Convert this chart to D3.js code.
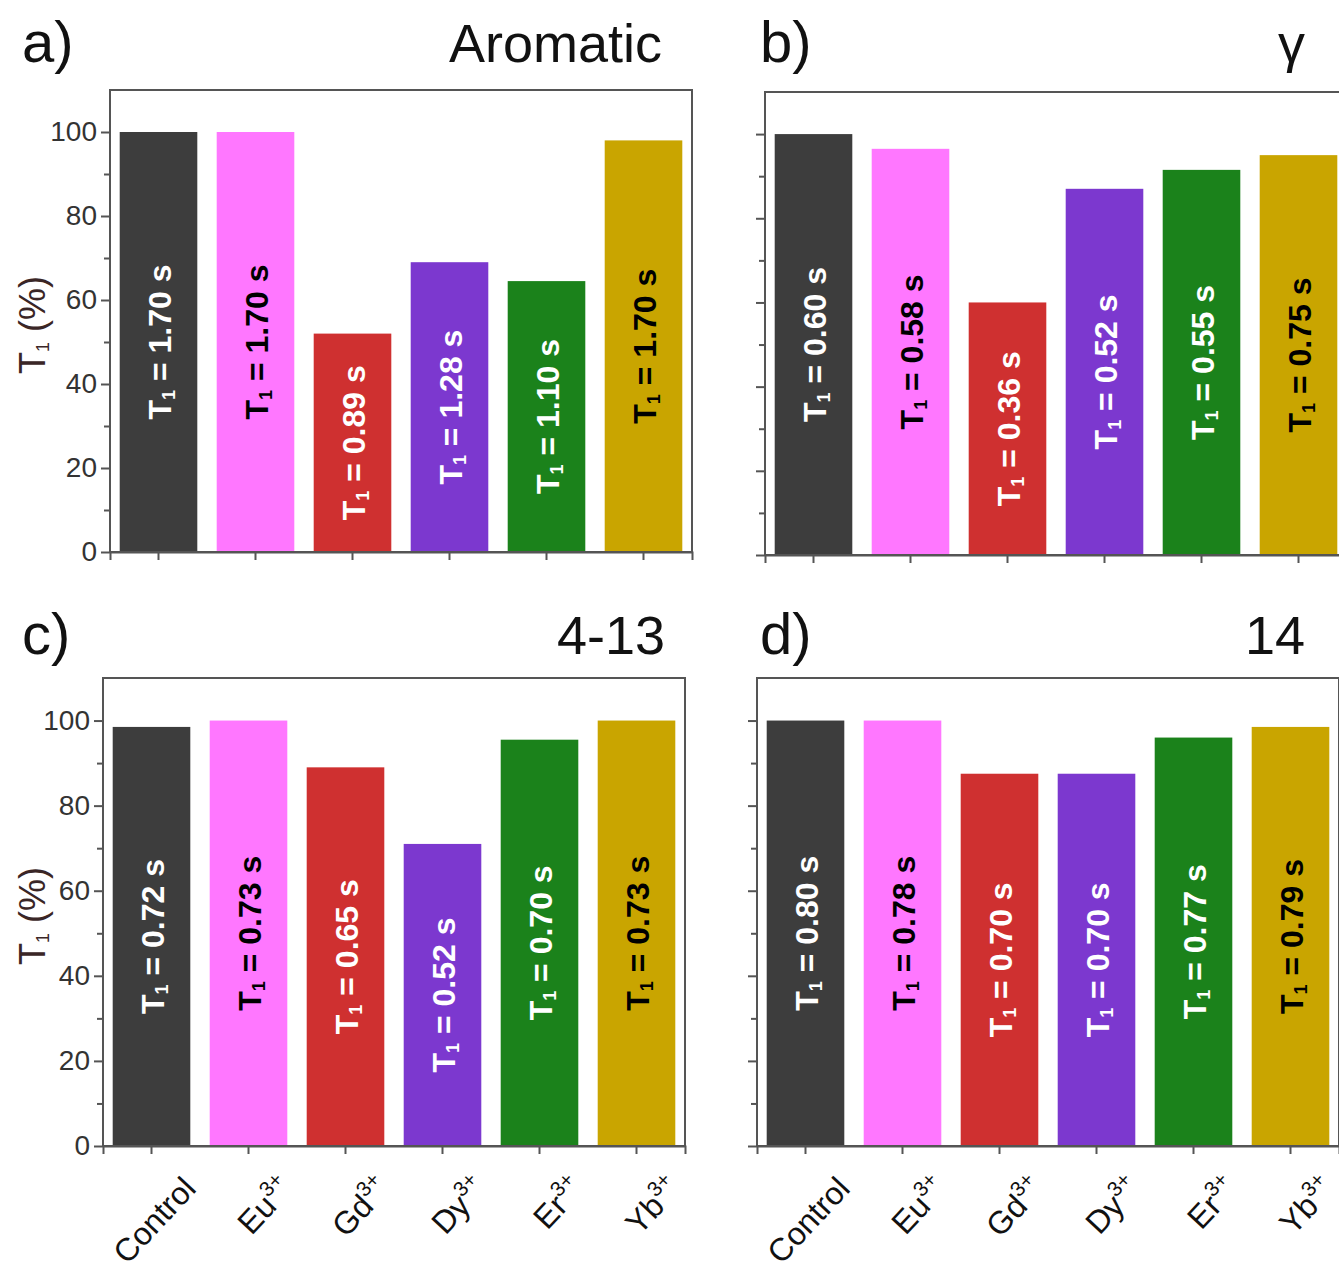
<!DOCTYPE html>
<html>
<head>
<meta charset="utf-8">
<script src="https://cdn.jsdelivr.net/npm/d3@7"></script>
<style>
  body { margin: 0; background: #fff; }
  text { font-family: "Liberation Sans", Arial, sans-serif; }
</style>
</head>
<body>
<div id="chart-area"></div>
<script>
// categories and values
const categories = ["Control", "Eu", "Gd", "Dy", "Er", "Yb"];
const catSup = ["", "3+", "3+", "3+", "3+", "3+"];
const barColors = ["#3d3d3d", "#ff77ff", "#cf3030", "#7c38cf", "#1b821b", "#c9a500"];
const labelColors = ["#fff", "#000", "#fff", "#fff", "#fff", "#000"];

const valuesA = [100, 100, 52, 69, 64.5, 98];
const valuesB = [100, 96.5, 60, 87, 91.5, 95];
const valuesC = [98.5, 100, 89, 71, 95.5, 100];
const valuesD = [100, 100, 87.5, 87.5, 96, 98.5];

const t1A = ["1.70", "1.70", "0.89", "1.28", "1.10", "1.70"];
const t1B = ["0.60", "0.58", "0.36", "0.52", "0.55", "0.75"];
const t1C = ["0.72", "0.73", "0.65", "0.52", "0.70", "0.73"];
const t1D = ["0.80", "0.78", "0.70", "0.70", "0.77", "0.79"];

const yTicks = [0, 20, 40, 60, 80, 100];

const panels = [
  { tag: "a)", title: "Aromatic", values: valuesA, t1: t1A, x: 110, top: 90, bottom: 552, tagX: 22, titleX: 662, titleY: 62, yLabels: true, xLabels: false },
  { tag: "b)", title: "γ", values: valuesB, t1: t1B, x: 765, top: 92, bottom: 555, tagX: 760, titleX: 1305, titleY: 62, yLabels: false, xLabels: false },
  { tag: "c)", title: "4-13", values: valuesC, t1: t1C, x: 103, top: 678, bottom: 1146, tagX: 22, titleX: 665, titleY: 654, yLabels: true, xLabels: true },
  { tag: "d)", title: "14", values: valuesD, t1: t1D, x: 757, top: 678, bottom: 1146, tagX: 760, titleX: 1305, titleY: 654, yLabels: false, xLabels: true }
];

const W = 1339, H = 1269;
const panelW = 582;

const svg = d3.select("#chart-area").append("svg")
  .attr("width", W).attr("height", H);

panels.forEach(p => {
  const x = d3.scaleBand().domain(categories)
    .range([p.x, p.x + panelW]).paddingInner(0.2).paddingOuter(0.1);
  const y = d3.scaleLinear().domain([0, 110]).range([p.bottom, p.top]);

  // panel tag and title
  svg.append("text").attr("x", p.tagX).attr("y", p.titleY)
    .attr("font-size", 58).attr("fill", "#111").text(p.tag);
  svg.append("text").attr("x", p.titleX).attr("y", p.titleY)
    .attr("text-anchor", "end").attr("font-size", 54).attr("fill", "#111").text(p.title);

  // bars
  const g = svg.append("g");
  g.selectAll("rect").data(p.values).join("rect")
    .attr("x", (d, i) => x(categories[i]))
    .attr("y", d => y(d))
    .attr("width", x.bandwidth())
    .attr("height", d => y(0) - y(d))
    .attr("fill", (d, i) => barColors[i]);

  // T1 labels inside bars
  const lab = g.selectAll("text.t1").data(p.values).join("text")
    .attr("class", "t1")
    .attr("transform", (d, i) => `translate(${x(categories[i]) + x.bandwidth() / 2 + 12},${(y(d) + y(0)) / 2}) rotate(-90)`)
    .attr("text-anchor", "middle")
    .attr("font-size", 32).attr("font-weight", "bold")
    .attr("fill", (d, i) => labelColors[i]);
  lab.append("tspan").text("T");
  lab.append("tspan").attr("font-size", 18).attr("dy", 4).text("1");
  lab.append("tspan").attr("dy", -4).text((d, i) => " = " + p.t1[i] + " s");

  // frame
  svg.append("rect").attr("x", p.x).attr("y", p.top)
    .attr("width", panelW).attr("height", p.bottom - p.top)
    .attr("fill", "none").attr("stroke", "#555").attr("stroke-width", 2);

  // y axis, major and minor ticks
  const yAxis = d3.axisLeft(y).tickValues(yTicks).tickSize(9).tickPadding(4)
    .tickFormat(p.yLabels ? d3.format("d") : "");
  const ya = svg.append("g").attr("transform", `translate(${p.x},0)`).call(yAxis);
  ya.select(".domain").remove();
  ya.selectAll("line").attr("stroke", "#555").attr("stroke-width", 2);
  ya.selectAll("text").attr("font-size", 28).attr("fill", "#333")
    .attr("font-family", "Liberation Sans, Arial, sans-serif");
  const yMinor = svg.append("g").attr("transform", `translate(${p.x},0)`)
    .call(d3.axisLeft(y).tickValues([10, 30, 50, 70, 90]).tickSize(6).tickFormat(""));
  yMinor.select(".domain").remove();
  yMinor.selectAll("line").attr("stroke", "#555").attr("stroke-width", 2);

  // x axis ticks
  const xa = svg.append("g").attr("transform", `translate(0,${p.bottom})`)
    .call(d3.axisBottom(x).tickSize(8).tickFormat(""));
  xa.select(".domain").attr("stroke", "#555").attr("stroke-width", 2);
  xa.selectAll("line").attr("stroke", "#555").attr("stroke-width", 2);

  if (p.yLabels) {
    const yl = svg.append("text")
      .attr("transform", `translate(45,${(p.top + p.bottom) / 2 + 4}) rotate(-90)`)
      .attr("text-anchor", "middle").attr("font-size", 36).attr("fill", "#3a2626");
    yl.append("tspan").text("T");
    yl.append("tspan").attr("font-size", 18).attr("dy", 4).text("1");
    yl.append("tspan").attr("dy", -4).text(" (%)");
  }

  if (p.xLabels) {
    const xl = svg.append("g").selectAll("text").data(categories).join("text")
      .attr("transform", d => `translate(${x(d) + x.bandwidth() / 2 + 46},${p.bottom + 44}) rotate(-47)`)
      .attr("text-anchor", "end").attr("font-size", 32).attr("fill", "#111");
    xl.append("tspan").text(d => d);
    xl.append("tspan").attr("font-size", 21).attr("dy", -14)
      .text((d, i) => catSup[i]);
  }
});
</script>
</body>
</html>
